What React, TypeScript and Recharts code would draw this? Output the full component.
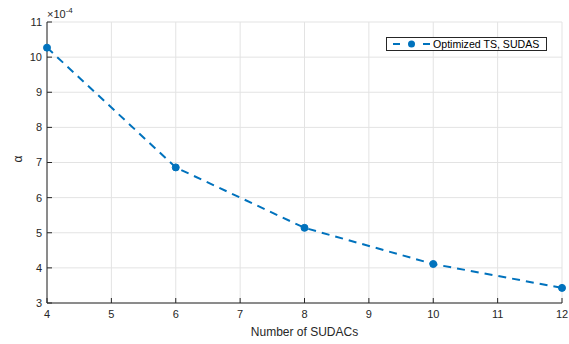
import { LineChart, Line, XAxis, YAxis, CartesianGrid } from 'recharts';

const sudacs = [4, 6, 8, 10, 12];
const alpha = [10.27, 6.86, 5.14, 4.11, 3.43];
const xTicks = [4, 5, 6, 7, 8, 9, 10, 11, 12];
const yTicks = [3, 4, 5, 6, 7, 8, 9, 10, 11];
const seriesName = 'Optimized TS, SUDAS';

const data = sudacs.map((n, i) => ({ n, alpha: alpha[i] }));

const BLUE = '#0072BD';
const INK = '#262626';
const FONT = '"Liberation Sans", Arial, Helvetica, sans-serif';

function LegendBox() {
  return (
    <div
      style={{
        position: 'absolute',
        left: 386,
        top: 37,
        width: 161,
        height: 14,
        boxSizing: 'border-box',
        border: `1px solid ${INK}`,
        background: '#fff',
        display: 'flex',
        alignItems: 'center',
        fontFamily: FONT,
        fontSize: 10.6,
        color: '#000',
      }}
    >
      <svg width={45} height={12} style={{ flex: 'none' }}>
        <line x1={6} x2={13} y1={6} y2={6} stroke={BLUE} strokeWidth={2} />
        <circle cx={24.5} cy={6} r={3.5} fill={BLUE} />
        <line x1={36} x2={43} y1={6} y2={6} stroke={BLUE} strokeWidth={2} />
      </svg>
      <span style={{ marginLeft: 1, whiteSpace: 'nowrap' }}>{seriesName}</span>
    </div>
  );
}

export default function App() {
  return (
    <div style={{ position: 'absolute', left: 0, top: 0, width: 569, height: 344, background: '#fff' }}>
      <LineChart
        width={569}
        height={344}
        data={data}
        margin={{ top: 22, right: 7, bottom: 0, left: 0 }}
        style={{ fontFamily: FONT }}
      >
        <CartesianGrid stroke="#e3e3e3" strokeWidth={1} />
        <XAxis
          dataKey="n"
          type="number"
          domain={[4, 12]}
          ticks={xTicks}
          interval={0}
          height={41}
          tickSize={-5}
          tickMargin={12}
          stroke={INK}
          tick={{ fill: INK, fontSize: 11 }}
          label={{ value: 'Number of SUDACs', position: 'insideBottom', offset: 8, fill: INK, fontSize: 12 }}
        />
        <XAxis
          xAxisId="top"
          orientation="top"
          type="number"
          domain={[4, 12]}
          ticks={xTicks}
          interval={0}
          height={0}
          tickSize={-5}
          tick={false}
          stroke={INK}
        />
        <YAxis
          type="number"
          domain={[3, 11]}
          ticks={yTicks}
          interval={0}
          width={47}
          tickSize={-5}
          tickMargin={10}
          stroke={INK}
          tick={{ fill: INK, fontSize: 11 }}
          label={{ value: 'α', angle: -90, position: 'insideLeft', offset: 18, fill: INK, fontSize: 12 }}
        />
        <YAxis
          yAxisId="right"
          orientation="right"
          type="number"
          domain={[3, 11]}
          ticks={yTicks}
          interval={0}
          width={0}
          tickSize={-5}
          tick={false}
          stroke={INK}
        />
        <Line
          type="linear"
          dataKey="alpha"
          name={seriesName}
          stroke={BLUE}
          strokeWidth={2}
          strokeDasharray="8 6"
          dot={{ r: 3.5, fill: BLUE, stroke: BLUE, strokeWidth: 1, strokeDasharray: '' }}
          isAnimationActive={false}
        />
      </LineChart>
      <div
        style={{
          position: 'absolute',
          left: 47,
          top: 8,
          fontFamily: FONT,
          fontSize: 11,
          color: INK,
          whiteSpace: 'nowrap',
          lineHeight: '12px',
        }}
      >
        ×10<span style={{ fontSize: 8, position: 'relative', top: -5 }}>-4</span>
      </div>
      <LegendBox />
    </div>
  );
}
